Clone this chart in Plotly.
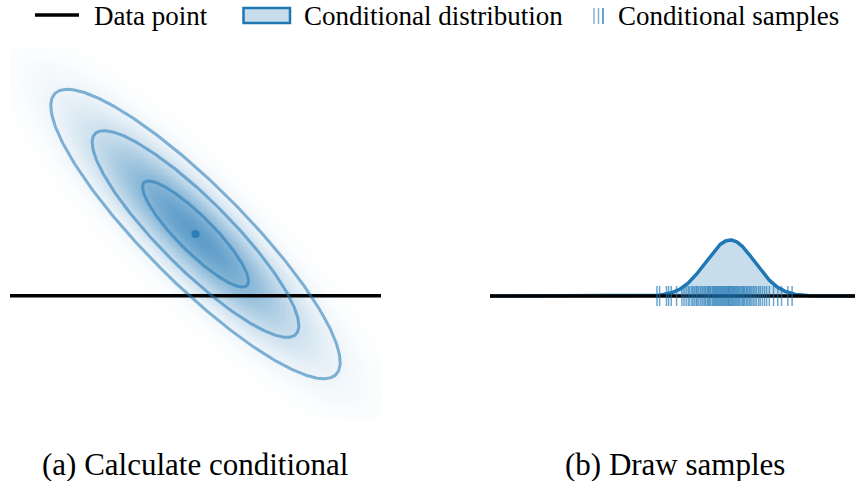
import numpy as np
import plotly.graph_objects as go

# ---------------- data ----------------
mean = [0.0, 0.0]           # joint Gaussian mean (x, y)
std = [1.0, 1.0]            # marginal standard deviations
rho = -0.886                # correlation
y_obs = -1.165              # observed data point (horizontal line)
contour_levels = [1.0, 1.95, 2.73]   # Mahalanobis radii of drawn ellipses
x_extent = [-3.5, 3.5]
y_extent = [-3.5, 3.5]
samples = [-0.35, -0.30, -0.17, -0.13, -0.08, 0.02, 0.12, 0.16, 0.20, 0.24,
           0.27, 0.31, 0.33, 0.36, 0.39, 0.41, 0.44, 0.47, 0.50, 0.52,
           0.55, 0.57, 0.60, 0.62, 0.64, 0.66, 0.69, 0.71, 0.73, 0.75,
           0.77, 0.79, 0.81, 0.83, 0.85, 0.87, 0.89, 0.91, 0.93, 0.95,
           0.97, 0.99, 1.00, 1.02, 1.04, 1.06, 1.08, 1.10, 1.12, 1.14,
           1.16, 1.18, 1.20, 1.22, 1.25, 1.27, 1.29, 1.31, 1.34, 1.36,
           1.39, 1.41, 1.44, 1.47, 1.50, 1.53, 1.57, 1.60, 1.64, 1.68,
           1.72, 1.77, 1.85, 1.93, 2.00, 2.12, 2.20]
legend_labels = ["Data point", "Conditional distribution", "Conditional samples"]
captions = ["(a) Calculate conditional", "(b) Draw samples"]

# ---------------- styles ----------------
W, H = 855, 481
BLUE = "#1f77b4"
FONT = "Liberation Serif"
rug_half = 0.154

def px(x):
    return x / W

def py(y):
    return 1 - y / H

cov = np.array([[std[0] ** 2, rho * std[0] * std[1]],
                [rho * std[0] * std[1], std[1] ** 2]])
icov = np.linalg.inv(cov)

# density grid
gx = np.linspace(x_extent[0], x_extent[1], 301)
gy = np.linspace(y_extent[0], y_extent[1], 301)
XX, YY = np.meshgrid(gx, gy)
dx, dy = XX - mean[0], YY - mean[1]
m2 = icov[0, 0] * dx ** 2 + 2 * icov[0, 1] * dx * dy + icov[1, 1] * dy ** 2
dens = np.exp(-0.5 * m2)
zimg = dens ** 0.6

fig = go.Figure()

fig.add_trace(go.Heatmap(
    x=gx, y=gy, z=zimg, zmin=0, zmax=1, showscale=False, hoverinfo="skip",
    colorscale=[[0, "rgba(31,119,180,0)"], [1, "rgba(31,119,180,0.72)"]],
    xaxis="x", yaxis="y"))

# data point line (left)
fig.add_trace(go.Scatter(x=x_extent, y=[y_obs, y_obs], mode="lines",
                         line=dict(color="black", width=3.5),
                         showlegend=False, hoverinfo="skip", xaxis="x", yaxis="y"))

# ellipses
w, V = np.linalg.eigh(cov)
t = np.linspace(0, 2 * np.pi, 400)
circ = np.vstack([np.cos(t), np.sin(t)])
for r in contour_levels:
    pts = V @ (np.sqrt(w)[:, None] * circ) * r
    fig.add_trace(go.Scatter(x=pts[0] + mean[0], y=pts[1] + mean[1], mode="lines",
                             line=dict(color="rgba(31,119,180,0.55)", width=3),
                             showlegend=False, hoverinfo="skip", xaxis="x", yaxis="y"))

fig.add_trace(go.Scatter(x=[mean[0]], y=[mean[1]], mode="markers",
                         marker=dict(color="rgba(31,119,180,0.8)", size=8),
                         showlegend=False, hoverinfo="skip", xaxis="x", yaxis="y"))

# conditional distribution (right)
mu_c = mean[0] + rho * std[0] / std[1] * (y_obs - mean[1])
sd_c = std[0] * np.sqrt(1 - rho ** 2)
cx = np.linspace(x_extent[0], x_extent[1], 500)
cpdf = np.exp(-0.5 * ((cx - mu_c) / sd_c) ** 2) / (sd_c * np.sqrt(2 * np.pi))

fig.add_trace(go.Scatter(x=cx, y=cpdf, mode="lines", fill="tozeroy",
                         fillcolor="rgba(31,119,180,0.25)",
                         line=dict(color=BLUE, width=3.5),
                         showlegend=False, hoverinfo="skip", xaxis="x2", yaxis="y2"))
fig.add_trace(go.Scatter(x=x_extent, y=[0, 0], mode="lines",
                         line=dict(color="black", width=3.5),
                         showlegend=False, hoverinfo="skip", xaxis="x2", yaxis="y2"))
rx, ry = [], []
for s in samples:
    rx += [s, s, None]
    ry += [-rug_half, rug_half, None]
fig.add_trace(go.Scatter(x=rx, y=ry, mode="lines",
                         line=dict(color="rgba(31,119,180,0.65)", width=1.5),
                         showlegend=False, hoverinfo="skip", xaxis="x2", yaxis="y2"))

# ---------------- layout ----------------
ppu = 371 / (x_extent[1] - x_extent[0])      # pixels per unit (left)
ydom = [py(419.5), py(48.5)]
ppu_r = 65.1
fig.update_layout(
    width=W, height=H, margin=dict(l=0, r=0, t=0, b=0),
    paper_bgcolor="white", plot_bgcolor="white", showlegend=False,
    xaxis=dict(domain=[px(10), px(381)], range=x_extent, visible=False),
    yaxis=dict(domain=ydom, range=y_extent, visible=False),
    xaxis2=dict(domain=[px(490), 1], range=[x_extent[0], x_extent[0] + 365 / ppu],
                visible=False),
    yaxis2=dict(domain=ydom, range=[-(419.5 - 296) / ppu_r, (296 - 48.5) / ppu_r],
                visible=False),
)

# manual legend
fig.add_shape(type="line", xref="paper", yref="paper", x0=px(35), x1=px(79),
              y0=py(15), y1=py(15), line=dict(color="black", width=3.5))
fig.add_shape(type="rect", xref="paper", yref="paper", x0=px(243.5), x1=px(290),
              y0=py(23), y1=py(8), fillcolor="rgba(31,119,180,0.25)",
              line=dict(color=BLUE, width=2.5))
for xx, a in [(594, 0.6), (598.5, 0.6), (603, 0.95)]:
    fig.add_shape(type="line", xref="paper", yref="paper", x0=px(xx), x1=px(xx),
                  y0=py(24), y1=py(8), line=dict(color=f"rgba(31,119,180,{a})", width=1.4))

for lbl, xx in zip(legend_labels, [92, 302, 616]):
    fig.add_annotation(text=lbl, x=px(xx), y=py(16), xref="paper", yref="paper",
                       xanchor="left", yanchor="middle", showarrow=False,
                       font=dict(family=FONT, size=27, color="black"))

for cap, xx in zip(captions, [195, 675]):
    fig.add_annotation(text=cap, x=px(xx), y=py(464), xref="paper", yref="paper",
                       xanchor="center", yanchor="middle", showarrow=False,
                       font=dict(family=FONT, size=31, color="black"))

fig.write_html("out.html")
